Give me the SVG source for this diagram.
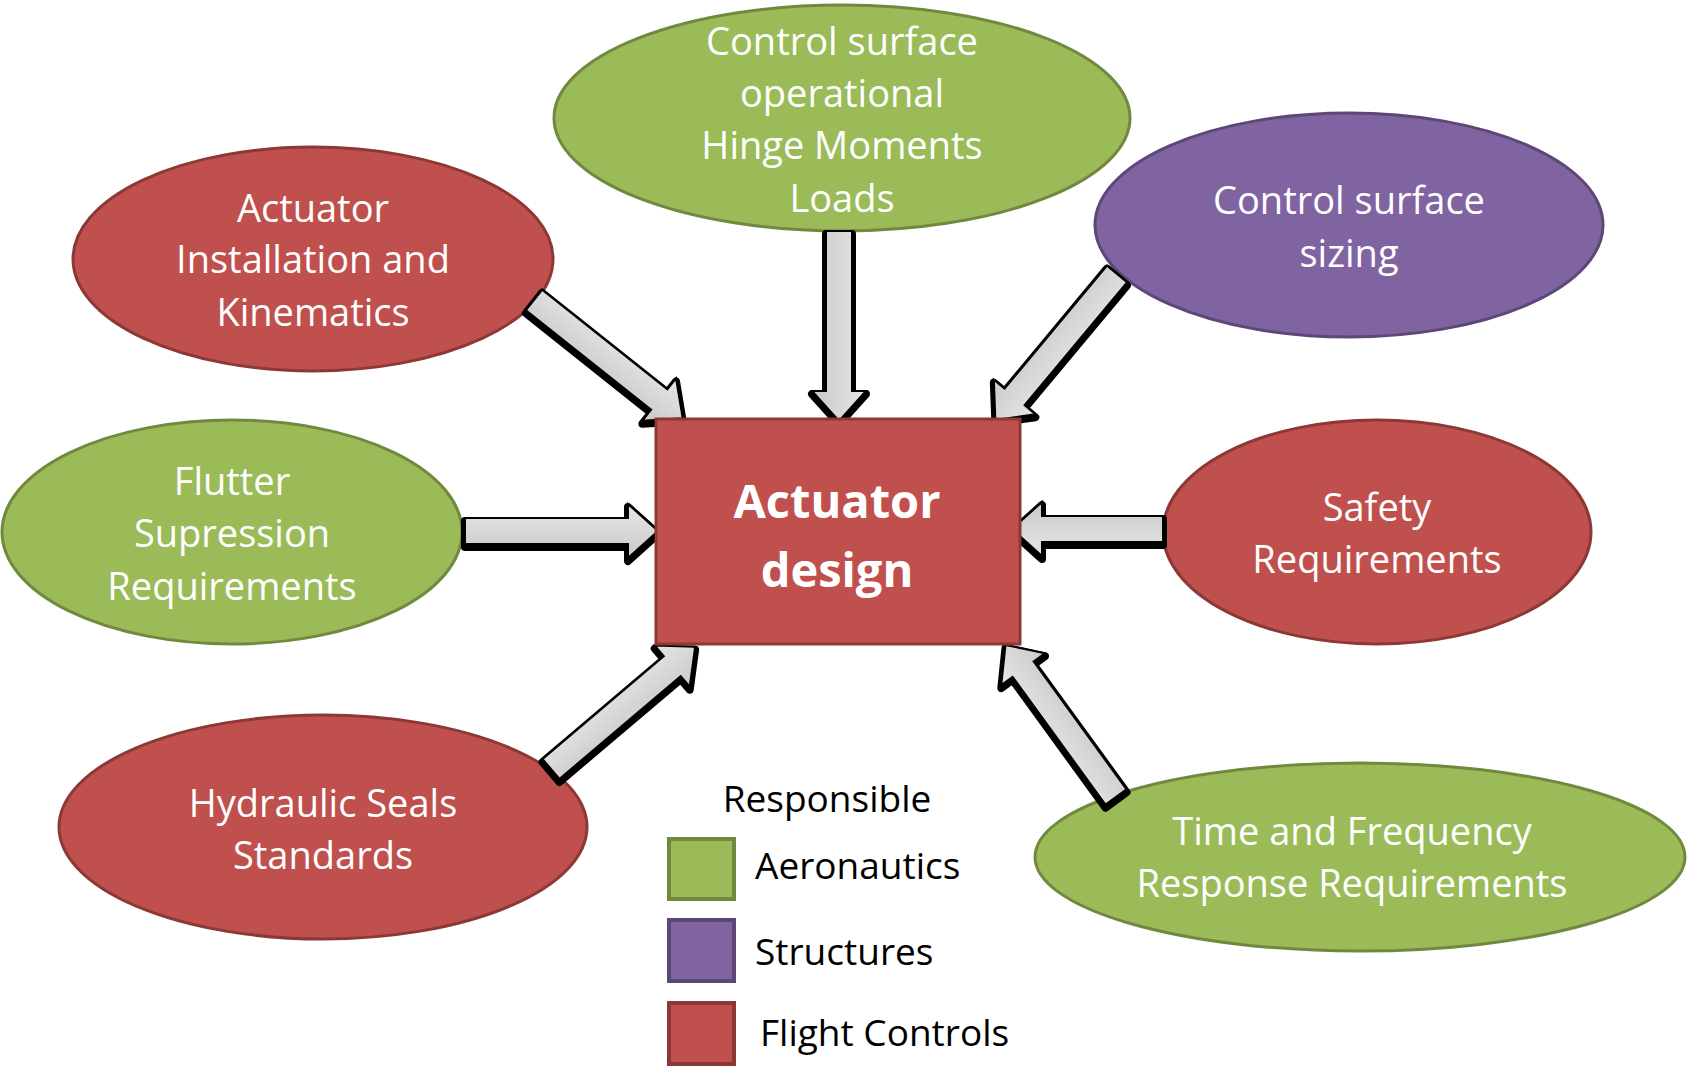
<svg xmlns="http://www.w3.org/2000/svg" xmlns:xlink="http://www.w3.org/1999/xlink" width="1688" height="1068" viewBox="0 0 1688 1068">
<style>
.red{fill:#C0504D;stroke:#8C3836;stroke-width:3}
.green{fill:#9BBB59;stroke:#71893F;stroke-width:3}
.purple{fill:#8064A2;stroke:#5C4776;stroke-width:3}
.lg{stroke-width:4}
.t{font-family:"Open Sans","Liberation Sans",sans-serif;font-size:38px;fill:#fff;text-anchor:middle}
.tb{font-family:"Open Sans","Liberation Sans",sans-serif;font-size:47px;font-weight:bold;fill:#fff;text-anchor:middle}
.tl{font-family:"Open Sans","Liberation Sans",sans-serif;font-size:37px;fill:#000}
.sh{fill:#000;stroke:#000;stroke-width:8;stroke-linejoin:round}
.ar{fill:url(#gr);stroke:#000;stroke-width:2;stroke-linejoin:miter}
</style>
<defs>
<linearGradient id="gr" x1="0" y1="0" x2="0" y2="1">
<stop offset="0" stop-color="#e6e6e6"/>
<stop offset="1" stop-color="#c9c9c9"/>
</linearGradient>
<polygon id="a1" points="0,-13 160,-13 160,-27 190,0 160,27 160,13 0,13" transform="translate(534,300) rotate(38.5)"/>
<polygon id="a2" points="0,-13 160,-13 160,-27 190,0 160,27 160,13 0,13" transform="translate(839,231) rotate(90)"/>
<polygon id="a3" points="0,-13 160,-13 160,-27 190,0 160,27 160,13 0,13" transform="translate(1117,274) rotate(129.8)"/>
<polygon id="a4" points="0,-13 163,-13 163,-27 193,0 163,27 163,13 0,13" transform="translate(465,531)"/>
<polygon id="a5" points="0,-13 121,-13 121,-27 151,0 121,27 121,13 0,13" transform="translate(1163,529) rotate(180)"/>
<polygon id="a6" points="0,-13 159,-13 159,-27 189,0 159,27 159,13 0,13" transform="translate(551,769) rotate(-40.3)"/>
<polygon id="a7" points="0,-13 158,-13 158,-27 188,0 158,27 158,13 0,13" transform="translate(1116,797) rotate(-126)"/>
</defs>

<g id="n-hinge"><ellipse class="green" cx="842" cy="118" rx="288" ry="113"/>
<text class="t" x="842" y="55">Control surface</text><text class="t" x="842" y="107">operational</text><text class="t" x="842" y="159">Hinge Moments</text><text class="t" x="842" y="212">Loads</text></g>

<g id="n-install"><ellipse class="red" cx="313" cy="259" rx="240" ry="112"/>
<text class="t" x="313" y="222">Actuator</text><text class="t" x="313" y="273">Installation and</text><text class="t" x="313" y="326">Kinematics</text></g>

<g id="n-sizing"><ellipse class="purple" cx="1349" cy="225" rx="254" ry="112"/>
<text class="t" x="1349" y="214">Control surface</text><text class="t" x="1349" y="267">sizing</text></g>

<g id="n-flutter"><ellipse class="green" cx="232" cy="532" rx="230" ry="112"/>
<text class="t" x="232" y="495">Flutter</text><text class="t" x="232" y="547">Supression</text><text class="t" x="232" y="600">Requirements</text></g>

<g id="n-safety"><ellipse class="red" cx="1377" cy="532" rx="214" ry="112"/>
<text class="t" x="1377" y="521">Safety</text><text class="t" x="1377" y="573">Requirements</text></g>

<g id="n-hydraulic"><ellipse class="red" cx="323" cy="827" rx="264" ry="112"/>
<text class="t" x="323" y="817">Hydraulic Seals</text><text class="t" x="323" y="869">Standards</text></g>

<g id="n-time"><ellipse class="green" cx="1360" cy="857" rx="325" ry="94"/>
<text class="t" x="1352" y="845">Time and Frequency</text><text class="t" x="1352" y="897">Response Requirements</text></g>

<g id="connectors">
<use xlink:href="#a1" class="sh" transform="translate(0,3)"/><use xlink:href="#a1" class="ar"/>
<use xlink:href="#a2" class="sh" transform="translate(0,3)"/><use xlink:href="#a2" class="ar"/>
<use xlink:href="#a3" class="sh" transform="translate(0,3)"/><use xlink:href="#a3" class="ar"/>
<use xlink:href="#a4" class="sh" transform="translate(0,3)"/><use xlink:href="#a4" class="ar"/>
<use xlink:href="#a5" class="sh" transform="translate(0,3)"/><use xlink:href="#a5" class="ar"/>
<use xlink:href="#a6" class="sh" transform="translate(0,3)"/><use xlink:href="#a6" class="ar"/>
<use xlink:href="#a7" class="sh" transform="translate(0,3)"/><use xlink:href="#a7" class="ar"/>
</g>

<g id="n-actuator"><rect class="red" x="656" y="419" width="364" height="225"/>
<text class="tb" x="837" y="518">Actuator</text><text class="tb" x="837" y="587">design</text></g>

<g id="legend">
<text class="tl" x="827" y="812" text-anchor="middle">Responsible</text>
<rect class="green lg" x="669" y="839" width="65" height="60"/>
<rect class="purple lg" x="669" y="920" width="65" height="61"/>
<rect class="red lg" x="669" y="1003" width="65" height="61"/>
<text class="tl" x="755" y="879">Aeronautics</text>
<text class="tl" x="755" y="965">Structures</text>
<text class="tl" x="760" y="1046">Flight Controls</text>
</g>
</svg>
